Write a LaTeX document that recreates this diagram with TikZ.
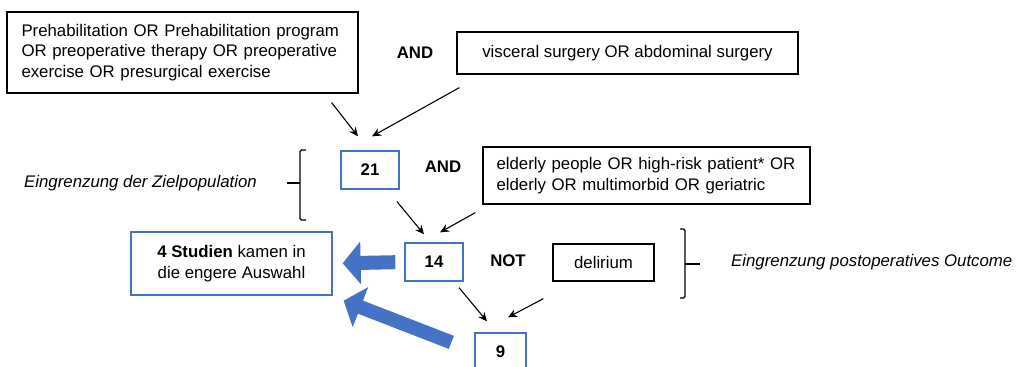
\documentclass[tikz,border=0pt]{standalone}
\usepackage{fontspec}
\setmainfont{Liberation Sans}
\usepackage{tikz}
\usetikzlibrary{arrows.meta,positioning,calc}
\definecolor{office}{HTML}{4472C4}
\newcommand{\termfont}{\fontsize{16.8}{20.5}\selectfont}
\tikzset{
  term/.style={draw=black,line width=1.2pt,fill=white,inner sep=0pt,font=\termfont},
  hit/.style={draw=office,line width=1.3pt,fill=white,inner sep=0pt,
              minimum width=58pt,minimum height=38pt,font=\termfont\bfseries},
  op/.style={font=\termfont\bfseries,inner sep=0pt},
  note/.style={font=\termfont\itshape,inner sep=0pt},
  flow/.style={-{Stealth[length=9pt,width=8pt]},line width=1.1pt},
  fatflow/.style={-{Triangle[length=18pt,width=42pt]},line width=14pt,color=office},
  bracket/.style={line width=1.2pt,rounded corners=1.5pt},
}

\begin{document}
\begin{tikzpicture}[x=1pt,y=-1pt]
  \useasboundingbox (0,0) rectangle (1018,367);
  \clip (0,0) rectangle (1018,367);
  % search terms
  \node[term,text width=322pt,align=left,minimum width=351pt,minimum height=81pt] (pre) at (182.5,52.5)
    {Prehabilitation OR Prehabilitation program\\OR preoperative therapy OR preoperative\\exercise OR presurgical exercise};
  \node[op] (and1) at (415,53) {AND};
  \node[term,minimum width=341pt,minimum height=42pt] (visc) at (627.5,53) {visceral surgery OR abdominal surgery};
  \node[hit] (n21) at (370,170) {21};
  \node[op] (and2) at (443,167) {AND};
  \node[term,text width=300pt,align=left,minimum width=327pt,minimum height=57pt] (old) at (646.5,175.5)
    {elderly people OR high-risk patient* OR\\elderly OR multimorbid OR geriatric};
  \node[hit] (n14) at (434,262) {14};
  \node[op] (not) at (508,261) {NOT};
  \node[term,minimum width=101pt,minimum height=37pt] (del) at (603.5,262.5) {delirium};
  \node[hit,minimum width=51pt] (n9) at (500.5,352) {9};
  \node[hit,font=\termfont,align=center,minimum width=201pt,minimum height=63pt] (res) at (231.5,263.5)
    {\textbf{4 Studien} kamen in\\die engere Auswahl};
  \node[note] (ziel) at (140.5,183) {Eingrenzung der Zielpopulation};
  \node[note,anchor=west] (outc) at (731,262) {Eingrenzung postoperatives Outcome};
  % brackets
  \draw[bracket] (306,150) -- (300,150) -- (300,220) -- (306,220);
  \draw[bracket] (287,183) -- (300,183);
  \draw[bracket] (680,229) -- (685,229) -- (685,298) -- (680,298);
  \draw[bracket] (685,264) -- (700,264);
  % combining arrows
  \draw[flow] ($(pre.south east)+(-27,9)$) -- ($(n21.north)+(-12,-14)$);
  \draw[flow] ($(visc.south west)+(3,13)$) -- ($(n21.north)+(2,-14)$);
  \draw[flow] ($(n21.south)+(27,12)$) -- ($(n14.north)+(-10,-8)$);
  \draw[flow] ($(old.south west)+(-7,8)$) -- ($(n14.north)+(6,-10)$);
  \draw[flow] ($(n14.south)+(25,6)$) -- ($(n9.north)+(-13.5,-11)$);
  \draw[flow] ($(del.south west)+(-9,17)$) -- ($(n9.north)+(7.5,-15)$);
  \draw[fatflow,shorten <=9pt,shorten >=10pt] (n14.west) -- (res.east);
  \draw[fatflow] ($(n9.north west)+(-23,10)$) -- ($(res.south east)+(11,5)$);
\end{tikzpicture}
\end{document}
